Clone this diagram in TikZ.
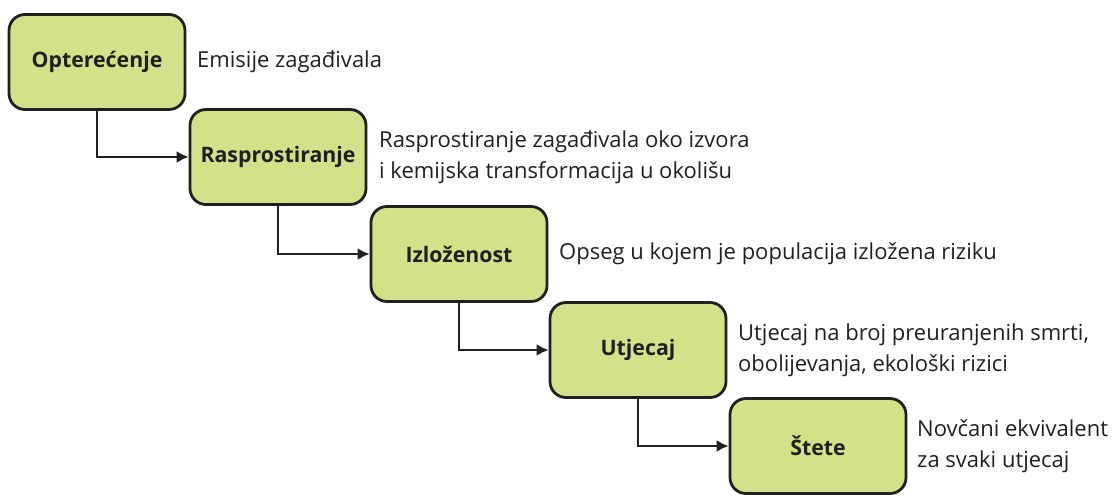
\documentclass[tikz,border=0pt]{standalone}
\usepackage{fontspec}
\setmainfont{Open Sans}
\usepackage{xcolor}
\usetikzlibrary{arrows.meta}
\definecolor{stagefill}{RGB}{211,226,137}
\definecolor{ink}{RGB}{35,31,32}

\begin{document}
\begin{tikzpicture}[x=1pt,y=-1pt,
	stage/.style={draw=ink,line width=2.8pt,fill=stagefill,rounded corners=16pt,
		minimum width=176pt,minimum height=95pt,text=ink,
		font=\bfseries\fontsize{21.3}{25}\selectfont},
	note/.style={anchor=west,align=left,text=ink,inner sep=0pt,
		font=\fontsize{22}{31}\selectfont},
	link/.style={draw=ink,line width=2.2pt,-{Latex[length=12pt,width=12pt]}}]
		\useasboundingbox (0,0) rectangle (1116,496);

		\node[stage] (load) at (97,62) {Opterećenje};
		\node[note] (loadtxt) at (197,62) {Emisije zagađivala};

		\node[stage] (spread) at (278,157) {Rasprostiranje};
		\node[note] (spreadtxt) at (379,157) {Rasprostiranje zagađivala oko izvora\\i kemijska transformacija u okolišu};

		\node[stage] (expo) at (459,254) {Izloženost};
		\node[note] (expotxt) at (559,254) {Opseg u kojem je populacija izložena riziku};

		\node[stage] (impact) at (638,350) {Utjecaj};
		\node[note] (impacttxt) at (738,350) {Utjecaj na broj preuranjenih smrti,\\obolijevanja, ekološki rizici};

		\node[stage] (damage) at (818,446) {Štete};
		\node[note] (damagetxt) at (917,446) {Novčani ekvivalent\\za svaki utjecaj};

		\draw[link] (load.south) |- (spread.west);
		\draw[link] (spread.south) |- (expo.west);
		\draw[link] (expo.south) |- (impact.west);
		\draw[link] (impact.south) |- (damage.west);
\end{tikzpicture}
\end{document}
